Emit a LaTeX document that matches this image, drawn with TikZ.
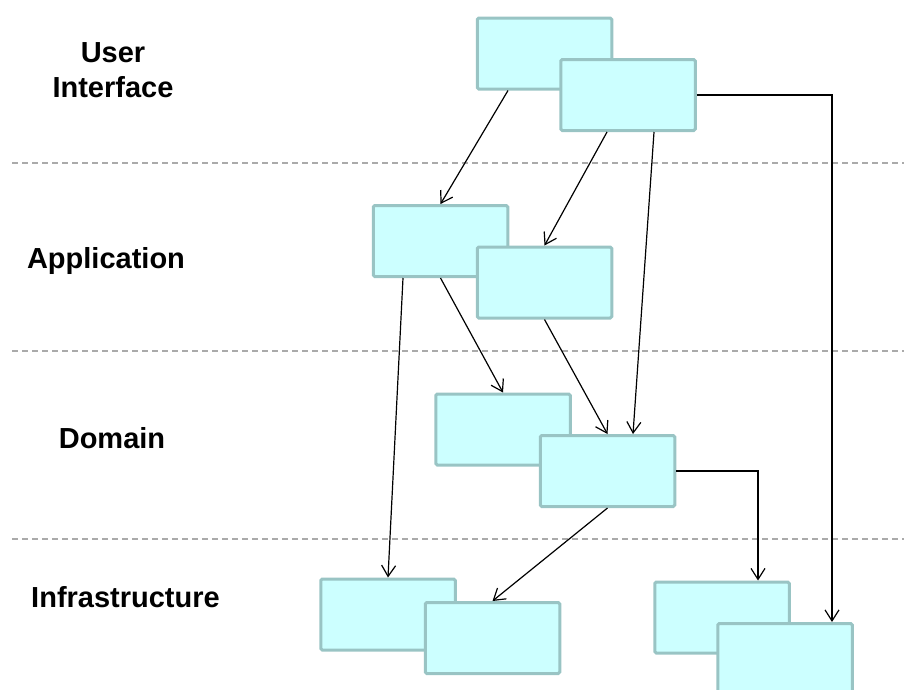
\documentclass[tikz,border=0pt]{standalone}
\usepackage{fontspec}
\setmainfont{Liberation Sans}
\usetikzlibrary{arrows.meta,calc}
\definecolor{boxfill}{HTML}{CCFFFF}
\definecolor{boxline}{HTML}{99C4C4}
\definecolor{sepline}{HTML}{AAAAAA}
\begin{document}
\begin{tikzpicture}[x=1pt,y=-1pt,
  layerbox/.style={draw=boxline,fill=boxfill,line width=3pt,rounded corners=1.5pt,
    minimum width=134.5pt,minimum height=71pt,inner sep=0pt},
  conn/.style={line width=1.2pt,-{Straight Barb[length=11pt,width=14pt,line width=1.2pt]}},
  sep/.style={draw=sepline,line width=1.5pt,dash pattern=on 6pt off 4pt},
  layerlabel/.style={font=\bfseries\fontsize{29}{35}\selectfont,inner sep=0pt,align=center}]
\useasboundingbox (0,0) rectangle (904,689);
% layer separators
\draw[sep] (12,163) -- (904,163);
\draw[sep] (12,351) -- (904,351);
\draw[sep] (12,539) -- (904,539);
% labels
\node[layerlabel] (lui) at (113,70) {User\\Interface};
\node[layerlabel,anchor=base] (lapp) at (106,268) {Application};
\node[layerlabel,anchor=base] (ldom) at (112,448) {Domain};
\node[layerlabel,anchor=base] (linf) at (125.5,607) {Infrastructure};
% boxes
\node[layerbox] (UI1) at (544.5,53.5) {};
\node[layerbox] (UI2) at (628,95) {};
\node[layerbox] (App1) at (440.5,241) {};
\node[layerbox] (App2) at (544.5,282.5) {};
\node[layerbox] (Dom1) at (503,429.5) {};
\node[layerbox] (Dom2) at (607.5,471) {};
\node[layerbox] (Inf1) at (388,614.5) {};
\node[layerbox] (Inf2) at (492.5,638) {};
\node[layerbox] (Inf3) at (722,617.5) {};
\node[layerbox] (Inf4) at (785,659) {};
% connectors
\draw[conn] ([xshift=-36.5pt]UI1.south) -- (App1.north);
\draw[conn] ([xshift=-21pt]UI2.south) -- (App2.north);
\draw[conn] ([xshift=26pt]UI2.south) -- ([xshift=25.5pt]Dom2.north);
\draw[conn] (UI2.east) -| ([xshift=47pt]Inf4.north);
\draw[conn] ([xshift=-37.5pt]App1.south) -- (Inf1.north);
\draw[conn] (App1.south) -- (Dom1.north);
\draw[conn] (App2.south) -- (Dom2.north);
\draw[conn] (Dom2.south) -- (Inf2.north);
\draw[conn] (Dom2.east) -| ([xshift=36pt]Inf3.north);
\end{tikzpicture}
\end{document}
